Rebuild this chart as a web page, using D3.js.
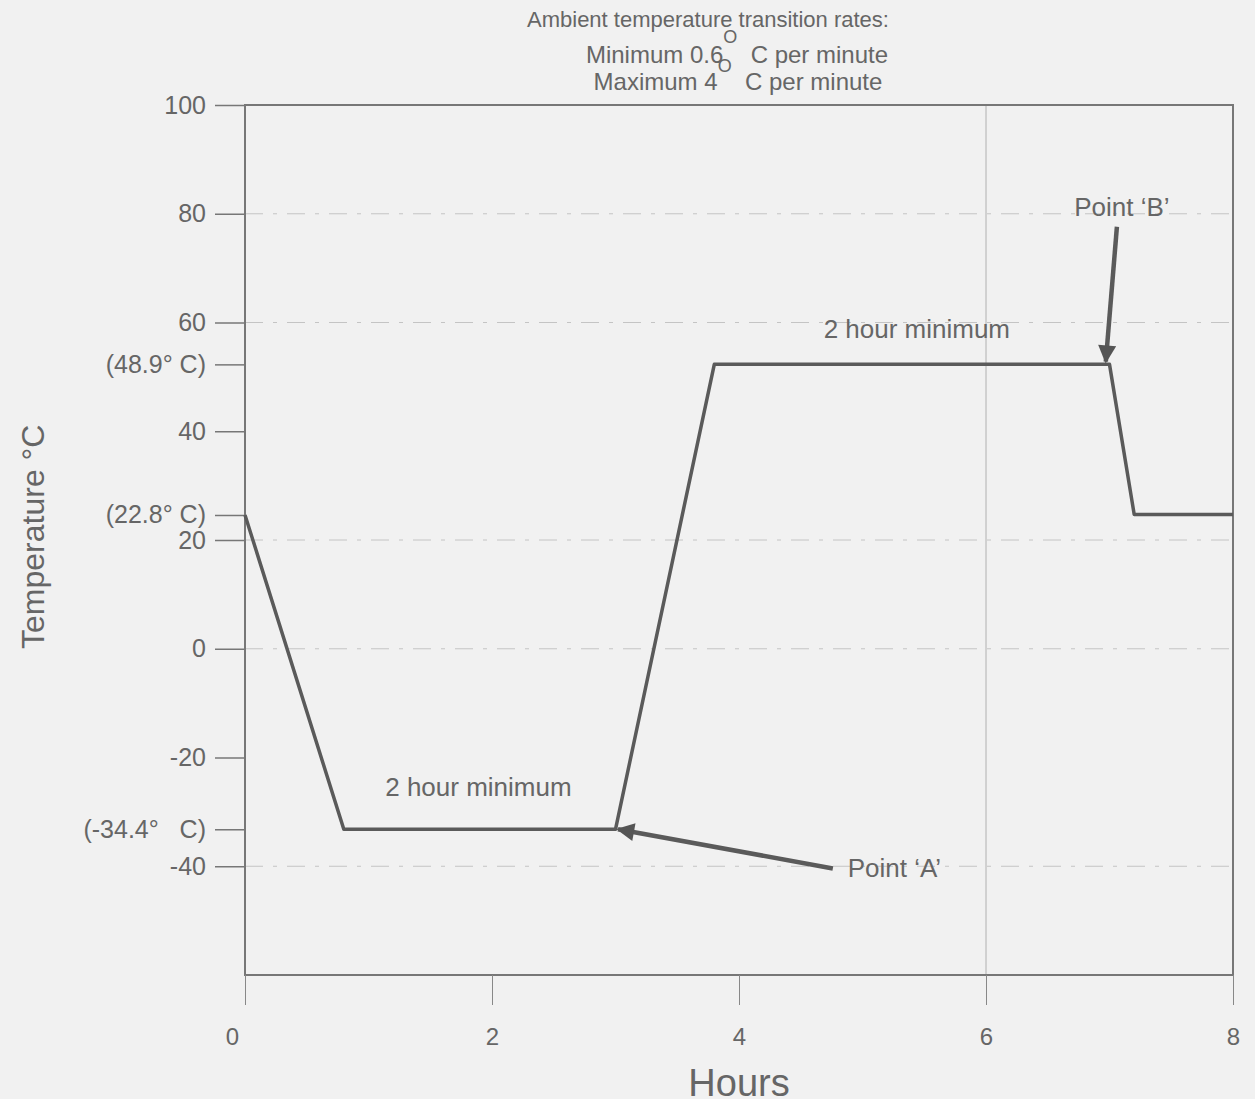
<!DOCTYPE html>
<html>
<head>
<meta charset="utf-8">
<script src="https://cdn.jsdelivr.net/npm/d3@7"></script>
<style>
  body { margin: 0; background: #f1f1f1; }
  text { font-family: "Liberation Sans", Arial, sans-serif; fill: #666; white-space: pre; }
</style>
</head>
<body>
<div id="chart"></div>
<script>
// temperature profile (hours, deg C) as drawn in the picture
const hours = [0, 0.8, 3.0, 3.8, 7.0, 7.2, 8];
const temps = [24.6, -33.2, -33.2, 52.3, 52.3, 24.7, 24.7];

const yTicks = [100, 80, 60, 52.3, 40, 24.6, 20, 0, -20, -33.2, -40];
const yTickLabels = ["100", "80", "60", "(48.9° C)", "40", "(22.8° C)", "20", "0", "-20", "(-34.4°   C)", "-40"];
const xTicks = [0, 2, 4, 6, 8];
const gridY = [80, 60, 20, 0, -40];
const gridX = [6];

const width = 1255, height = 1099;
const margin = {top: 105, right: 22, bottom: 124, left: 245};

const svg = d3.select("#chart")
              .append("svg")
              .attr("width", width)
              .attr("height", height);

const x = d3.scaleLinear()
            .domain([0, 8])
            .range([margin.left, width - margin.right]);

const y = d3.scaleLinear()
            .domain([-60, 100])
            .range([height - margin.bottom, margin.top]);

svg.append("defs").append("marker")
   .attr("id", "arrow")
   .attr("viewBox", "0 0 10 10")
   .attr("refX", 9)
   .attr("refY", 5)
   .attr("markerWidth", 6)
   .attr("markerHeight", 4)
   .attr("markerUnits", "strokeWidth")
   .attr("orient", "auto")
   .append("path")
   .attr("d", "M0,0L10,5L0,10Z")
   .attr("fill", "#555");

// grid lines
svg.append("g")
   .selectAll("line")
   .data(gridY)
   .join("line")
   .attr("x1", x(0))
   .attr("x2", x(8))
   .attr("y1", d => y(d))
   .attr("y2", d => y(d))
   .attr("stroke", "#c4c4c4")
   .attr("stroke-width", 1)
   .attr("stroke-dasharray", "18,10,4,10");

svg.append("g")
   .selectAll("line")
   .data(gridX)
   .join("line")
   .attr("x1", d => x(d))
   .attr("x2", d => x(d))
   .attr("y1", y(100))
   .attr("y2", y(-60))
   .attr("stroke", "#b0b0b0")
   .attr("stroke-width", 1);

// frame
svg.append("rect")
   .attr("x", x(0))
   .attr("y", y(100))
   .attr("width", x(8) - x(0))
   .attr("height", y(-60) - y(100))
   .attr("fill", "none")
   .attr("stroke", "#777")
   .attr("stroke-width", 2);

// y axis
const yAxis = svg.append("g")
   .attr("transform", `translate(${x(0)},0)`)
   .call(d3.axisLeft(y)
           .tickValues(yTicks)
           .tickFormat((d, i) => yTickLabels[i])
           .tickSize(30)
           .tickPadding(9));
yAxis.select(".domain").remove();
yAxis.selectAll("line").attr("stroke", "#777").attr("stroke-width", 1.5);
yAxis.selectAll("text")
     .style("font-size", "25px")
     .attr("fill", "#666")
     .style("font-family", "Liberation Sans, Arial, sans-serif");

// x axis
const xAxis = svg.append("g")
   .attr("transform", `translate(0,${y(-60)})`)
   .call(d3.axisBottom(x)
           .tickValues(xTicks)
           .tickFormat(d3.format("d"))
           .tickSize(30)
           .tickPadding(23));
xAxis.select(".domain").remove();
xAxis.selectAll("line").attr("stroke", "#888").attr("stroke-width", 1);
xAxis.selectAll("text")
     .style("font-size", "24px")
     .attr("fill", "#777")
     .attr("dx", d => d === 0 ? -13 : 0)
     .style("font-family", "Liberation Sans, Arial, sans-serif");

// profile line
const line = d3.line()
               .x((d, i) => x(hours[i]))
               .y(d => y(d));

svg.append("path")
   .datum(temps)
   .attr("fill", "none")
   .attr("stroke", "#5a5a5a")
   .attr("stroke-width", 3.5)
   .attr("stroke-linejoin", "round")
   .attr("d", line);

// annotations
svg.append("line")
   .attr("x1", x(4.76)).attr("y1", y(-40.4))
   .attr("x2", x(3.02)).attr("y2", y(-33.2))
   .attr("stroke", "#5a5a5a")
   .attr("stroke-width", 4.5)
   .attr("marker-end", "url(#arrow)");

svg.append("text")
   .attr("x", x(4.88))
   .attr("y", y(-40.4) + 9)
   .style("font-size", "26px")
   .text("Point ‘A’");

svg.append("line")
   .attr("x1", x(7.06)).attr("y1", y(77.6))
   .attr("x2", x(6.97)).attr("y2", y(52.8))
   .attr("stroke", "#5a5a5a")
   .attr("stroke-width", 4.5)
   .attr("marker-end", "url(#arrow)");

svg.append("text")
   .attr("x", x(7.1))
   .attr("y", y(81.2) + 9)
   .attr("text-anchor", "middle")
   .style("font-size", "26px")
   .text("Point ‘B’");

svg.append("text")
   .attr("x", x(5.44))
   .attr("y", y(58.8) + 9)
   .attr("text-anchor", "middle")
   .style("font-size", "26px")
   .text("2 hour minimum");

svg.append("text")
   .attr("x", x(1.89))
   .attr("y", y(-25.5) + 9)
   .attr("text-anchor", "middle")
   .style("font-size", "26px")
   .text("2 hour minimum");

// title
svg.append("text")
   .attr("x", 708)
   .attr("y", 27)
   .attr("text-anchor", "middle")
   .style("font-size", "22px")
   .text("Ambient temperature transition rates:");

const t2 = svg.append("text")
   .attr("x", 737)
   .attr("y", 63)
   .attr("text-anchor", "middle")
   .style("font-size", "24px");
t2.append("tspan").text("Minimum 0.6");
t2.append("tspan").attr("dy", -20).style("font-size", "18px").text("O");
t2.append("tspan").attr("dy", 20).text("  C per minute");

const t3 = svg.append("text")
   .attr("x", 738)
   .attr("y", 90)
   .attr("text-anchor", "middle")
   .style("font-size", "24px");
t3.append("tspan").text("Maximum 4");
t3.append("tspan").attr("dy", -18).style("font-size", "18px").text("O");
t3.append("tspan").attr("dy", 18).text("  C per minute");

// axis titles
svg.append("text")
   .attr("transform", `translate(44,${y(20.6)}) rotate(-90)`)
   .attr("text-anchor", "middle")
   .style("font-size", "32px")
   .text("Temperature °C");

svg.append("text")
   .attr("x", x(4))
   .attr("y", 1096)
   .attr("text-anchor", "middle")
   .style("font-size", "38px")
   .text("Hours");
</script>
</body>
</html>
